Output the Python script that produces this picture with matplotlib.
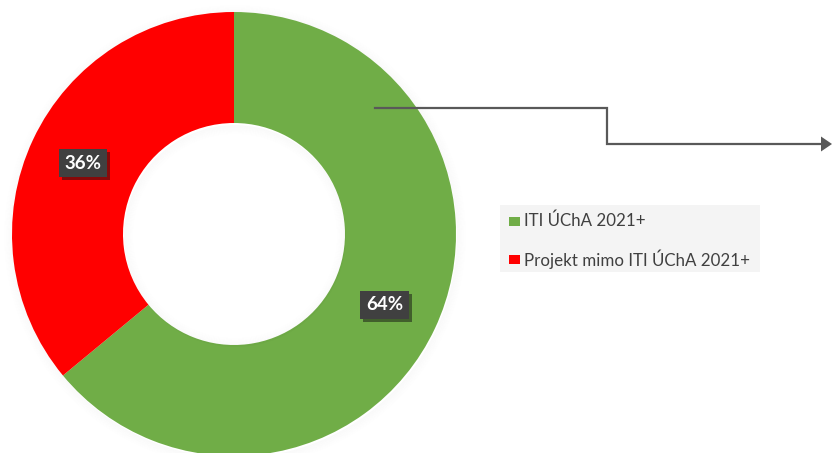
import matplotlib
matplotlib.use("Agg")
import matplotlib.pyplot as plt
from matplotlib.patches import Rectangle, Wedge, Polygon
import matplotlib.patheffects as pe
import numpy as np

# Data
categories = ["ITI ÚChA 2021+", "Projekt mimo ITI ÚChA 2021+"]
shares = [64, 36]
colors = ["#70AD47", "#FF0000"]
value_labels = ["64%", "36%"]

plt.rcParams['font.family'] = ['Lato', 'DejaVu Sans']

W, H = 832, 453
fig = plt.figure(figsize=(W / 100, H / 100), dpi=100)
ax = fig.add_axes([0, 0, 1, 1])

cx, cy = 234, H - 234
R_out, R_in = 222, 111

# soft glow around the ring
for i in range(10):
    a = 0.018 * (10 - i) / 10
    ax.add_patch(Wedge((cx + 1, cy - 2), R_out + 1 + i, 0, 360, width=1.2,
                       facecolor="black", edgecolor="none", alpha=a, zorder=1))
    ax.add_patch(Wedge((cx + 1, cy - 2), R_in - i, 0, 360, width=1.2,
                       facecolor="black", edgecolor="none", alpha=a, zorder=3))

wedges, _ = ax.pie(shares, colors=colors, startangle=90, counterclock=False,
                   radius=R_out, center=(cx, cy),
                   wedgeprops=dict(width=R_out - R_in, edgecolor="none"))
for w in wedges:
    w.set_zorder(2)

# value labels at the ring's mid radius
r_mid = (R_out + R_in) / 2
angle = 90.0
for val, lab in zip(shares, value_labels):
    span = 360.0 * val / sum(shares)
    mid = np.deg2rad(angle - span / 2)
    angle -= span
    x = cx + r_mid * np.cos(mid)
    y = cy + r_mid * np.sin(mid)
    ax.text(x, y, lab, ha="center", va="center", fontsize=13.5, fontweight="bold",
            color="white", zorder=6,
            bbox=dict(boxstyle="square,pad=0.3", facecolor="#404040", edgecolor="none",
                      path_effects=[pe.SimplePatchShadow(offset=(2, -2), alpha=0.5),
                                    pe.Normal()]))

# connector arrow
line_col = "#595959"
ax.plot([375, 607, 607, 823], [H - 108, H - 108, H - 144, H - 144],
        color=line_col, lw=1.6, solid_joinstyle="miter", zorder=5)
ax.add_patch(Polygon([[821, H - 136.5], [832, H - 144], [821, H - 151.5]],
                     closed=True, facecolor=line_col, edgecolor="none", zorder=5))

# legend
ax.add_patch(Rectangle((500, H - 272), 260, 67, facecolor="#F4F4F4",
                       edgecolor="none", zorder=4))
legend_y = [221, 259]
for cat, col, yy in zip(categories, colors, legend_y):
    ax.add_patch(Rectangle((509, H - yy - 4.5), 11, 9, facecolor=col,
                           edgecolor="none", zorder=5))
    ax.text(524, H - yy, cat, ha="left", va="center", fontsize=12.2,
            color="#404040", zorder=5)

ax.set_xlim(0, W)
ax.set_ylim(0, H)
ax.set_aspect("auto")
ax.axis("off")

fig.savefig("out.png", dpi=100, facecolor="white")
